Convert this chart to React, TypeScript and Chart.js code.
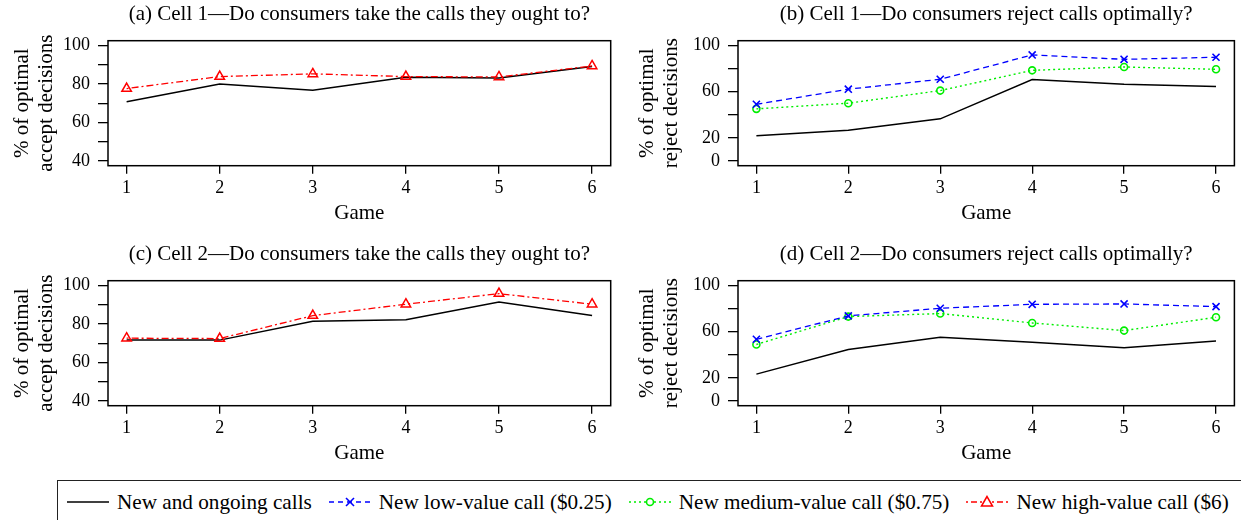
import React, { useEffect, useRef } from 'react';
import { Chart, registerables } from 'chart.js';

Chart.register(...registerables);

// ---------- data ----------
const games = [1, 2, 3, 4, 5, 6];

const aOngoing = [70.7, 80.0, 76.7, 83.4, 83.1, 89.0];
const aHigh = [77.6, 83.8, 85.2, 83.8, 83.6, 89.3];

const bOngoing = [21.8, 26.7, 36.5, 70.4, 66.4, 64.4];
const bLow = [49.1, 62.1, 70.7, 91.7, 87.9, 89.7];
const bMedium = [45.1, 50.0, 60.9, 78.4, 81.3, 79.3];

const cOngoing = [71.6, 71.6, 81.4, 82.2, 91.4, 84.3];
const cHigh = [72.6, 72.4, 84.3, 90.2, 95.7, 90.2];

const dOngoing = [23.3, 44.5, 55.2, 50.9, 46.0, 52.0];
const dLow = [53.4, 73.6, 80.2, 83.6, 83.9, 81.6];
const dMedium = [48.9, 73.0, 75.6, 67.5, 60.9, 72.4];

const acceptTicks = [40, 50, 60, 70, 80, 90, 100];
const acceptTickLabels = [40, 60, 80, 100];
const rejectTicks = [0, 20, 40, 60, 80, 100];
const rejectTickLabels = [0, 20, 60, 100];

const seriesNames = [
  'New and ongoing calls',
  'New low-value call ($0.25)',
  'New medium-value call ($0.75)',
  'New high-value call ($6)',
];

const titles = [
  '(a) Cell 1\u2014Do consumers take the calls they ought to?',
  '(b) Cell 1\u2014Do consumers reject calls optimally?',
  '(c) Cell 2\u2014Do consumers take the calls they ought to?',
  '(d) Cell 2\u2014Do consumers reject calls optimally?',
];
const acceptYTitle = ['% of optimal', 'accept decisions'];
const rejectYTitle = ['% of optimal', 'reject decisions'];
const xTitle = 'Game';

// ---------- styles ----------
const FONT = "'Liberation Serif', 'Times New Roman', serif";
const BLACK = '#000000';
const BLUE = '#0000ff';
const GREEN = '#00ee00';
const RED = '#ff0000';

const toXY = (vals: number[]) => vals.map((v, i) => ({ x: games[i], y: v }));

const ongoingDs = (vals: number[]) => ({
  label: seriesNames[0],
  data: toXY(vals),
  borderColor: BLACK,
  backgroundColor: BLACK,
  borderWidth: 1.5,
  pointRadius: 0,
  tension: 0,
});
const lowDs = (vals: number[]) => ({
  label: seriesNames[1],
  data: toXY(vals),
  borderColor: BLUE,
  backgroundColor: BLUE,
  borderWidth: 1.3,
  borderDash: [6, 4],
  pointStyle: 'crossRot',
  pointRadius: 5,
  pointBorderWidth: 1.6,
  pointBorderColor: BLUE,
  tension: 0,
});
const mediumDs = (vals: number[]) => ({
  label: seriesNames[2],
  data: toXY(vals),
  borderColor: GREEN,
  backgroundColor: 'rgba(0,0,0,0)',
  borderWidth: 1.4,
  borderDash: [2, 3],
  pointStyle: 'circle',
  pointRadius: 3.5,
  pointBorderWidth: 1.6,
  pointBorderColor: GREEN,
  pointBackgroundColor: 'rgba(0,0,0,0)',
  tension: 0,
});
const highDs = (vals: number[]) => ({
  label: seriesNames[3],
  data: toXY(vals),
  borderColor: RED,
  backgroundColor: 'rgba(0,0,0,0)',
  borderWidth: 1.3,
  borderDash: [2, 3, 7, 3],
  pointStyle: 'triangle',
  pointRadius: 5.5,
  pointBorderWidth: 1.5,
  pointBorderColor: RED,
  pointBackgroundColor: 'rgba(0,0,0,0)',
  tension: 0,
});

const boxPlugin = {
  id: 'rbox',
  afterDraw(chart: any) {
    const { ctx, chartArea: a } = chart;
    ctx.save();
    ctx.strokeStyle = BLACK;
    ctx.lineWidth = 1.5;
    ctx.strokeRect(a.left, a.top, a.right - a.left, a.bottom - a.top);
    ctx.restore();
  },
};

type PanelProps = {
  left: number;
  top: number;
  width: number;
  height: number;
  title: string;
  yTitle: string[];
  yMin: number;
  yMax: number;
  yTicks: number[];
  yLabels: number[];
  datasets: any[];
  yAxisWidth: number;
  yTitlePad: number;
  padRight: number;
};

function Panel(p: PanelProps) {
  const ref = useRef<HTMLCanvasElement | null>(null);
  useEffect(() => {
    if (!ref.current) return;
    const chart = new Chart(ref.current, {
      type: 'line',
      data: { datasets: p.datasets },
      plugins: [boxPlugin],
      options: {
        animation: false,
        responsive: false,
        devicePixelRatio: 1,
        layout: { padding: { left: 0, right: p.padRight, top: 0, bottom: 0 } },
        plugins: {
          legend: { display: false },
          tooltip: { enabled: false },
          title: {
            display: true,
            text: p.title,
            color: BLACK,
            fullSize: false,
            font: { family: FONT, size: 21, weight: 'normal', lineHeight: 1.2 },
            padding: { top: 2, bottom: 13.5 },
          },
        },
        scales: {
          x: {
            type: 'linear',
            min: 0.8,
            max: 6.2,
            afterBuildTicks: (s: any) => {
              s.ticks = games.map((g) => ({ value: g }));
            },
            afterFit: (s: any) => {
              s.height = 74.3;
            },
            ticks: {
              autoSkip: false,
              color: BLACK,
              padding: 4,
              font: { family: FONT, size: 18 },
              callback: (v: any) => String(v),
            },
            grid: {
              display: true,
              drawOnChartArea: false,
              drawTicks: true,
              tickLength: 8,
              color: BLACK,
              lineWidth: 1.3,
            },
            border: { display: false },
            title: {
              display: true,
              text: xTitle,
              color: BLACK,
              font: { family: FONT, size: 21, lineHeight: 1.2 },
              padding: { top: 0, bottom: 14 },
            },
          },
          y: {
            type: 'linear',
            min: p.yMin,
            max: p.yMax,
            afterBuildTicks: (s: any) => {
              s.ticks = p.yTicks.map((v) => ({ value: v }));
            },
            afterFit: (s: any) => {
              s.width = p.yAxisWidth;
            },
            ticks: {
              autoSkip: false,
              color: BLACK,
              padding: 8,
              font: { family: FONT, size: 18 },
              callback: (v: any) => (p.yLabels.includes(Number(v)) ? String(v) : ''),
            },
            grid: {
              display: true,
              drawOnChartArea: false,
              drawTicks: true,
              tickLength: 10,
              color: BLACK,
              lineWidth: 1.3,
            },
            border: { display: false },
            title: {
              display: true,
              text: p.yTitle,
              color: BLACK,
              font: { family: FONT, size: 21, lineHeight: 1.14 },
              padding: { top: p.yTitlePad, bottom: 0 },
            },
          },
        },
      } as any,
    });
    return () => chart.destroy();
  }, []);
  return (
    <canvas
      ref={ref}
      width={p.width}
      height={p.height}
      style={{ position: 'absolute', left: p.left, top: p.top, width: p.width, height: p.height }}
    />
  );
}

function Sample({ kind }: { kind: number }) {
  const w = 42;
  const h = 20;
  const cy = 10;
  const cx = w / 2;
  if (kind === 0) {
    return (
      <svg width={w} height={h} style={{ display: 'block' }}>
        <line x1={0} y1={cy} x2={w} y2={cy} stroke={BLACK} strokeWidth={1.5} />
      </svg>
    );
  }
  if (kind === 1) {
    return (
      <svg width={w} height={h} style={{ display: 'block' }}>
        <line x1={0} y1={cy} x2={w} y2={cy} stroke={BLUE} strokeWidth={1.3} strokeDasharray="5 4" />
        <line x1={cx - 4} y1={cy - 4} x2={cx + 4} y2={cy + 4} stroke={BLUE} strokeWidth={1.6} />
        <line x1={cx - 4} y1={cy + 4} x2={cx + 4} y2={cy - 4} stroke={BLUE} strokeWidth={1.6} />
      </svg>
    );
  }
  if (kind === 2) {
    return (
      <svg width={w} height={h} style={{ display: 'block' }}>
        <line x1={0} y1={cy} x2={cx - 4} y2={cy} stroke={GREEN} strokeWidth={1.4} strokeDasharray="2 3" />
        <line x1={cx + 4} y1={cy} x2={w} y2={cy} stroke={GREEN} strokeWidth={1.4} strokeDasharray="2 3" />
        <circle cx={cx} cy={cy} r={3.5} fill="none" stroke={GREEN} strokeWidth={1.6} />
      </svg>
    );
  }
  return (
    <svg width={w} height={h} style={{ display: 'block' }}>
      <line x1={0} y1={cy} x2={cx - 5} y2={cy} stroke={RED} strokeWidth={1.3} strokeDasharray="2 3 6 3" />
      <line x1={cx + 5} y1={cy} x2={w} y2={cy} stroke={RED} strokeWidth={1.3} strokeDasharray="2 3 6 3" />
      <polygon
        points={`${cx},${cy - 5.5} ${cx - 5.5},${cy + 4} ${cx + 5.5},${cy + 4}`}
        fill="none"
        stroke={RED}
        strokeWidth={1.5}
      />
    </svg>
  );
}

export default function App() {
  return (
    <div
      style={{
        position: 'absolute',
        left: 0,
        top: 0,
        width: 1241,
        height: 520,
        overflow: 'hidden',
        background: '#ffffff',
      }}
    >
      <Panel
        left={0}
        top={0}
        width={620}
        height={240}
        title={titles[0]}
        yTitle={acceptYTitle}
        yMin={37.6}
        yMax={102.4}
        yTicks={acceptTicks}
        yLabels={acceptTickLabels}
        datasets={[highDs(aHigh), ongoingDs(aOngoing)]}
        yAxisWidth={108}
        yTitlePad={11}
        padRight={9.3}
      />
      <Panel
        left={620}
        top={0}
        width={621}
        height={240}
        title={titles[1]}
        yTitle={rejectYTitle}
        yMin={-4}
        yMax={104}
        yTicks={rejectTicks}
        yLabels={rejectTickLabels}
        datasets={[lowDs(bLow), mediumDs(bMedium), ongoingDs(bOngoing)]}
        yAxisWidth={118}
        yTitlePad={16}
        padRight={0.5}
      />
      <Panel
        left={0}
        top={240}
        width={620}
        height={240}
        title={titles[2]}
        yTitle={acceptYTitle}
        yMin={37.6}
        yMax={102.4}
        yTicks={acceptTicks}
        yLabels={acceptTickLabels}
        datasets={[highDs(cHigh), ongoingDs(cOngoing)]}
        yAxisWidth={108}
        yTitlePad={11}
        padRight={9.3}
      />
      <Panel
        left={620}
        top={240}
        width={621}
        height={240}
        title={titles[3]}
        yTitle={rejectYTitle}
        yMin={-4}
        yMax={104}
        yTicks={rejectTicks}
        yLabels={rejectTickLabels}
        datasets={[lowDs(dLow), mediumDs(dMedium), ongoingDs(dOngoing)]}
        yAxisWidth={118}
        yTitlePad={16}
        padRight={0.5}
      />
      <div
        style={{
          position: 'absolute',
          left: 57,
          top: 480,
          width: 1300,
          height: 60,
          boxSizing: 'border-box',
          border: '1.5px solid #222',
          fontFamily: FONT,
          fontSize: 21.2,
          color: BLACK,
        }}
      >
        <div
          style={{
            display: 'flex',
            alignItems: 'center',
            height: 42,
            paddingLeft: 9,
            whiteSpace: 'nowrap',
          }}
        >
          {seriesNames.map((name, i) => (
            <div key={name} style={{ display: 'flex', alignItems: 'center', marginRight: 17 }}>
              <Sample kind={i} />
              <span style={{ marginLeft: 8 }}>{name}</span>
            </div>
          ))}
        </div>
      </div>
    </div>
  );
}
